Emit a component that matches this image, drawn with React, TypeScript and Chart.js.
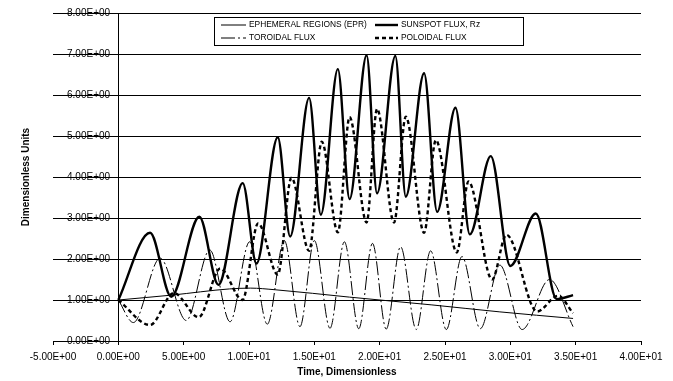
import React, { useEffect, useRef } from 'react';
import { Chart, registerables } from 'chart.js';

Chart.register(...registerables);

// ---- tick values ----
const xTickValues = [-5, 0, 5, 10, 15, 20, 25, 30, 35, 40];
const yTickValues = [0, 1, 2, 3, 4, 5, 6, 7, 8];

// ---- series: EPHEMERAL REGIONS (EPR) ----
const eprX = [0, 4.1, 8.5, 10.1, 12, 17.7, 24, 29.2, 34.8];
const eprY = [1.0, 1.12, 1.27, 1.29, 1.25, 1.07, 0.88, 0.71, 0.55];

// ---- series: SUNSPOT FLUX, Rz ----
const sunX = [0, 2.43, 4.05, 6.2, 7.66, 9.52, 10.57, 12.2, 13.15, 14.6, 15.5, 16.8, 17.7, 19.0, 19.8, 21.2, 22.0, 23.4, 24.4, 25.8, 26.9, 28.5, 30.0, 31.95, 33.55, 34.8];
const sunY = [1.0, 2.64, 1.08, 3.03, 1.37, 3.85, 1.89, 4.97, 2.55, 5.93, 3.08, 6.63, 3.46, 6.97, 3.6, 6.95, 3.52, 6.53, 3.15, 5.69, 2.6, 4.51, 1.83, 3.11, 1.02, 1.12];

// ---- series: TOROIDAL FLUX ----
const torX = [0, 1.15, 3.2, 5.2, 7.0, 8.55, 10.05, 11.4, 12.7, 13.9, 15.0, 16.2, 17.3, 18.4, 19.45, 20.5, 21.6, 22.8, 23.9, 25.1, 26.3, 27.7, 29.2, 30.9, 33.0, 34.8];
const torY = [1.0, 0.45, 2.02, 0.5, 2.22, 0.47, 2.42, 0.41, 2.45, 0.35, 2.45, 0.31, 2.42, 0.3, 2.38, 0.29, 2.3, 0.28, 2.2, 0.28, 2.06, 0.3, 1.85, 0.28, 1.5, 0.35];

// ---- series: POLOIDAL FLUX ----
const polX = [0, 2.43, 4.25, 6.15, 7.8, 9.5, 10.7, 12.2, 13.25, 14.6, 15.57, 16.8, 17.7, 19.0, 19.8, 21.1, 22.0, 23.4, 24.3, 25.9, 26.8, 28.6, 29.7, 32.05, 33.65, 34.8];
const polY = [1.0, 0.39, 1.17, 0.58, 1.77, 1.0, 2.87, 1.62, 3.98, 2.2, 4.86, 2.65, 5.46, 2.89, 5.66, 2.89, 5.47, 2.64, 4.9, 2.16, 3.89, 1.5, 2.59, 0.72, 1.1, 0.68];

const fmtE = (v: number) => {
  const [m, e] = Number(v).toExponential(2).split('e');
  const sign = e[0] === '-' ? '-' : '+';
  const d = String(Math.abs(parseInt(e, 10))).padStart(2, '0');
  return `${m}E${sign}${d}`;
};

const toPts = (xs: number[], ys: number[]) => xs.map((x, i) => ({ x, y: ys[i] }));

const FONT = '"Liberation Sans", Arial, Helvetica, sans-serif';

const boxLegend = {
  id: 'boxLegend',
  afterDatasetsDraw(chart: any) {
    const ctx = chart.ctx;
    const bx = 214, by = 17, bw = 309, bh = 28;
    ctx.save();
    ctx.fillStyle = '#fff';
    ctx.fillRect(bx, by, bw, bh);
    ctx.strokeStyle = '#000';
    ctx.lineWidth = 1;
    ctx.setLineDash([]);
    ctx.strokeRect(bx + 0.5, by + 0.5, bw, bh);
    const cols = [
      { sx: 221, ex: 246, tx: 249 },
      { sx: 375, ex: 398, tx: 401 },
    ];
    const rows = [25, 38];
    chart.data.datasets.forEach((ds: any, i: number) => {
      const c = cols[i % 2];
      const r = rows[Math.floor(i / 2)];
      ctx.beginPath();
      ctx.setLineDash(ds.borderDash || []);
      ctx.lineWidth = ds.borderWidth;
      ctx.strokeStyle = ds.borderColor;
      ctx.moveTo(c.sx, r);
      ctx.lineTo(c.ex, r);
      ctx.stroke();
      ctx.setLineDash([]);
      ctx.fillStyle = '#000';
      ctx.font = `8.4px ${FONT}`;
      ctx.textBaseline = 'middle';
      ctx.textAlign = 'left';
      ctx.fillText(ds.label, c.tx, r);
    });
    ctx.restore();
  },
};

export default function App() {
  const ref = useRef<HTMLCanvasElement | null>(null);

  useEffect(() => {
    if (!ref.current) return;
    Chart.defaults.font.family = FONT;
    Chart.defaults.font.size = 10;
    Chart.defaults.color = '#000';

    const common = {
      pointRadius: 0,
      pointHoverRadius: 0,
      fill: false,
      tension: 0.4,
      cubicInterpolationMode: 'monotone' as const,
      borderColor: '#000',
    };

    const chart = new Chart(ref.current, {
      type: 'line',
      data: {
        datasets: [
          { ...common, label: 'EPHEMERAL REGIONS (EPR)', data: toPts(eprX, eprY), borderWidth: 1 },
          { ...common, label: 'SUNSPOT FLUX, Rz', data: toPts(sunX, sunY), borderWidth: 2.4 },
          { ...common, label: 'TOROIDAL FLUX', data: toPts(torX, torY), borderWidth: 1, borderDash: [14, 3, 2, 3] },
          { ...common, label: 'POLOIDAL FLUX', data: toPts(polX, polY), borderWidth: 2.4, borderDash: [4, 3] },
        ],
      },
      options: {
        responsive: false,
        animation: false,
        events: [],
        layout: { padding: { left: 8, right: 32, top: 13, bottom: 0 } },
        plugins: { legend: { display: false }, tooltip: { enabled: false } },
        scales: {
          x: {
            type: 'linear',
            position: 'bottom',
            min: -5,
            max: 40,
            afterBuildTicks: (s: any) => { s.ticks = xTickValues.map((v) => ({ value: v })); },
            ticks: { color: '#000', font: { size: 10 }, padding: 6, maxRotation: 0, autoSkip: false, callback: (v: any) => fmtE(v) },
            grid: { display: true, drawOnChartArea: false, drawTicks: true, tickLength: 4, color: '#000', lineWidth: 1 },
            border: { display: true, color: '#000', width: 1 },
            title: { display: true, text: 'Time, Dimensionless', color: '#000', font: { size: 10, weight: 'bold' }, padding: { top: 0, bottom: 3 } },
            afterFit: (s: any) => { s.height = 40; s.paddingLeft = 0; s.paddingRight = 0; },
          },
          y: {
            type: 'linear',
            position: 'left',
            min: 0,
            max: 8,
            afterBuildTicks: (s: any) => { s.ticks = yTickValues.map((v) => ({ value: v })); },
            ticks: { mirror: true, crossAlign: 'far', padding: 14, color: '#000', font: { size: 10 }, callback: (v: any) => fmtE(v) },
            grid: { color: '#000', lineWidth: 1, drawTicks: false },
            border: { display: false },
            title: { display: true, text: 'Dimensionless Units', color: '#000', font: { size: 10, weight: 'bold' }, padding: { top: 12, bottom: 0 } },
            afterFit: (s: any) => { s.width = 45; s.paddingTop = 0; s.paddingBottom = 0; },
          },
          yLine: {
            type: 'linear',
            axis: 'y',
            position: { x: 0 },
            min: 0,
            max: 8,
            afterBuildTicks: (s: any) => { s.ticks = yTickValues.map((v) => ({ value: v })); },
            ticks: { display: false },
            grid: { drawOnChartArea: false, drawTicks: true, tickLength: 3, color: '#000' },
            border: { display: true, color: '#000', width: 1 },
            afterFit: (s: any) => { s.paddingTop = 0; s.paddingBottom = 0; },
          },
        } as any,
      },
      plugins: [boxLegend],
    });
    return () => chart.destroy();
  }, []);

  return (
    <div style={{ position: 'fixed', left: 0, top: 0, width: 673, height: 381, background: '#fff' }}>
      <canvas ref={ref} width={673} height={381} />
    </div>
  );
}
